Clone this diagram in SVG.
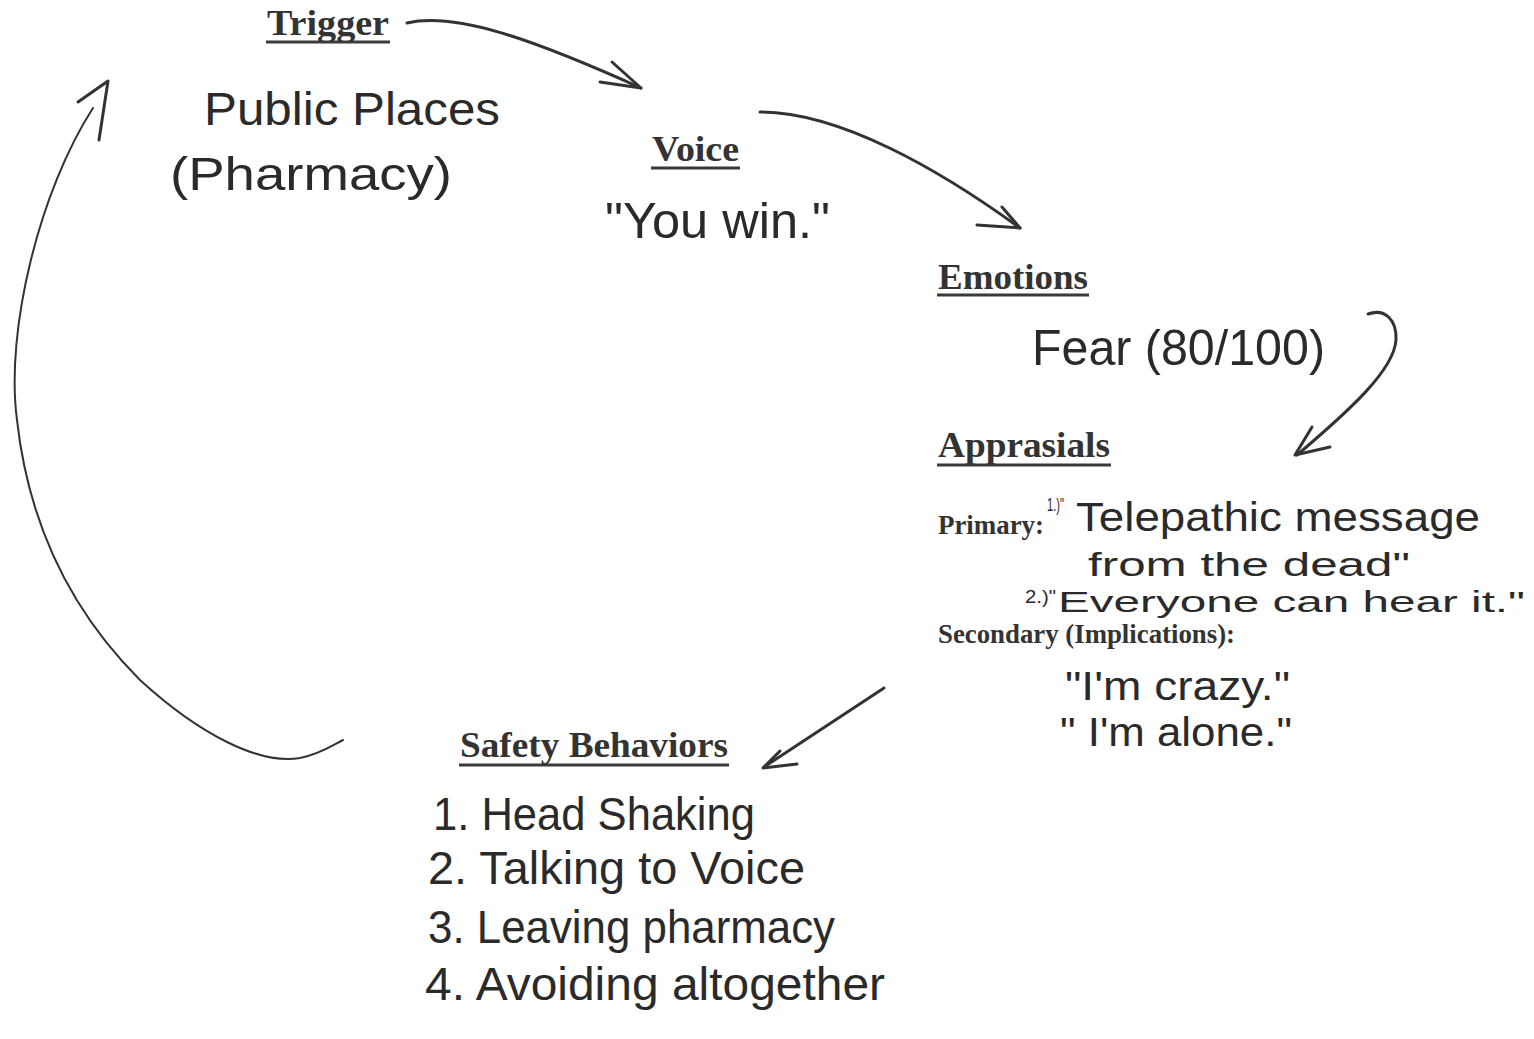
<svg xmlns="http://www.w3.org/2000/svg" width="1534" height="1039" viewBox="0 0 1534 1039">
<style>
.hd{font-family:"Liberation Serif","Times New Roman",serif;font-weight:bold;fill:#333;font-size:36px}
.sub{font-family:"Liberation Serif","Times New Roman",serif;font-weight:bold;fill:#333;font-size:27px}
.hw{font-family:"Liberation Sans",Arial,sans-serif;fill:#2a2a2a}
.sm{font-family:"Liberation Sans",Arial,sans-serif;fill:#2a2a2a;font-size:18px}
.ul{stroke:#3a3a3a;stroke-width:3}
.arr{fill:none;stroke:#333;stroke-width:3;stroke-linecap:round;stroke-linejoin:round}
</style>
<rect width="1534" height="1039" fill="#ffffff"/>
<g id="trigger">
<text class="hd" x="267" y="35" textLength="122" lengthAdjust="spacingAndGlyphs">Trigger</text>
<line class="ul" x1="266" y1="42" x2="390" y2="42"/>
<text class="hw" x="204" y="125" font-size="46" textLength="296" lengthAdjust="spacingAndGlyphs">Public Places</text>
<text class="hw" x="170" y="190" font-size="46" textLength="282" lengthAdjust="spacingAndGlyphs">(Pharmacy)</text>
</g>
<g id="voice">
<text class="hd" x="652" y="161" textLength="87" lengthAdjust="spacingAndGlyphs">Voice</text>
<line class="ul" x1="651" y1="168" x2="740" y2="168"/>
<text class="hw" x="605" y="238" font-size="50" textLength="225" lengthAdjust="spacingAndGlyphs">"You win."</text>
</g>
<g id="emotions">
<text class="hd" x="938" y="289" textLength="150" lengthAdjust="spacingAndGlyphs">Emotions</text>
<line class="ul" x1="937" y1="295" x2="1089" y2="295"/>
<text class="hw" x="1032" y="365" font-size="50" textLength="293" lengthAdjust="spacingAndGlyphs">Fear (80/100)</text>
</g>
<g id="appraisals">
<text class="hd" x="938" y="457" textLength="172" lengthAdjust="spacingAndGlyphs">Apprasials</text>
<line class="ul" x1="937" y1="465" x2="1111" y2="465"/>
<text class="sub" x="938" y="534" textLength="106" lengthAdjust="spacingAndGlyphs">Primary:</text>
<text class="sm" x="1047" y="511" textLength="17" lengthAdjust="spacingAndGlyphs">1.)"</text>
<text class="hw" x="1076" y="531" font-size="40" textLength="404" lengthAdjust="spacingAndGlyphs">Telepathic message</text>
<text class="hw" x="1088" y="576" font-size="34" textLength="322" lengthAdjust="spacingAndGlyphs">from the dead"</text>
<text class="sm" x="1025" y="603" textLength="31" lengthAdjust="spacingAndGlyphs">2.)"</text>
<text class="hw" x="1058" y="612" font-size="30" textLength="467" lengthAdjust="spacingAndGlyphs">Everyone can hear it."</text>
<text class="sub" x="938" y="643" textLength="297" lengthAdjust="spacingAndGlyphs">Secondary (Implications):</text>
<text class="hw" x="1065" y="700" font-size="40" textLength="225" lengthAdjust="spacingAndGlyphs">"I'm crazy."</text>
<text class="hw" x="1060" y="746" font-size="40" textLength="232" lengthAdjust="spacingAndGlyphs">" I'm alone."</text>
</g>
<g id="safety">
<text class="hd" x="460" y="757" textLength="268" lengthAdjust="spacingAndGlyphs">Safety Behaviors</text>
<line class="ul" x1="459" y1="765" x2="729" y2="765"/>
<text class="hw" x="433" y="830" font-size="46" textLength="322" lengthAdjust="spacingAndGlyphs">1. Head Shaking</text>
<text class="hw" x="428" y="884" font-size="46" textLength="377" lengthAdjust="spacingAndGlyphs">2. Talking to Voice</text>
<text class="hw" x="428" y="943" font-size="46" textLength="407" lengthAdjust="spacingAndGlyphs">3. Leaving pharmacy</text>
<text class="hw" x="425" y="1000" font-size="46" textLength="460" lengthAdjust="spacingAndGlyphs">4. Avoiding altogether</text>
</g>
<g id="connectors">
<path class="arr" d="M407,23 C455,12 530,38 641,88"/>
<path class="arr" d="M612,62 L641,88 L600,82"/>
<path class="arr" d="M760,112 C840,112 940,170 1020,228"/>
<path class="arr" d="M1002,207 L1020,228 L977,225"/>
<path class="arr" d="M1368,314 C1385,308 1397,320 1396,340 C1394,370 1350,410 1297,455"/>
<path class="arr" d="M1312,427 L1295,455 L1330,447"/>
<path class="arr" d="M884,688 L764,767"/>
<path class="arr" d="M780,751 L763,768 L797,764"/>
<path class="arr" style="stroke-width:2" d="M93,108 C40,190 5,330 17,420 C27,510 60,600 140,680 C200,735 260,765 300,758 C320,754 333,745 343,740"/>
<path class="arr" d="M78,102 L108,81 L99,140"/>
</g>
</svg>
